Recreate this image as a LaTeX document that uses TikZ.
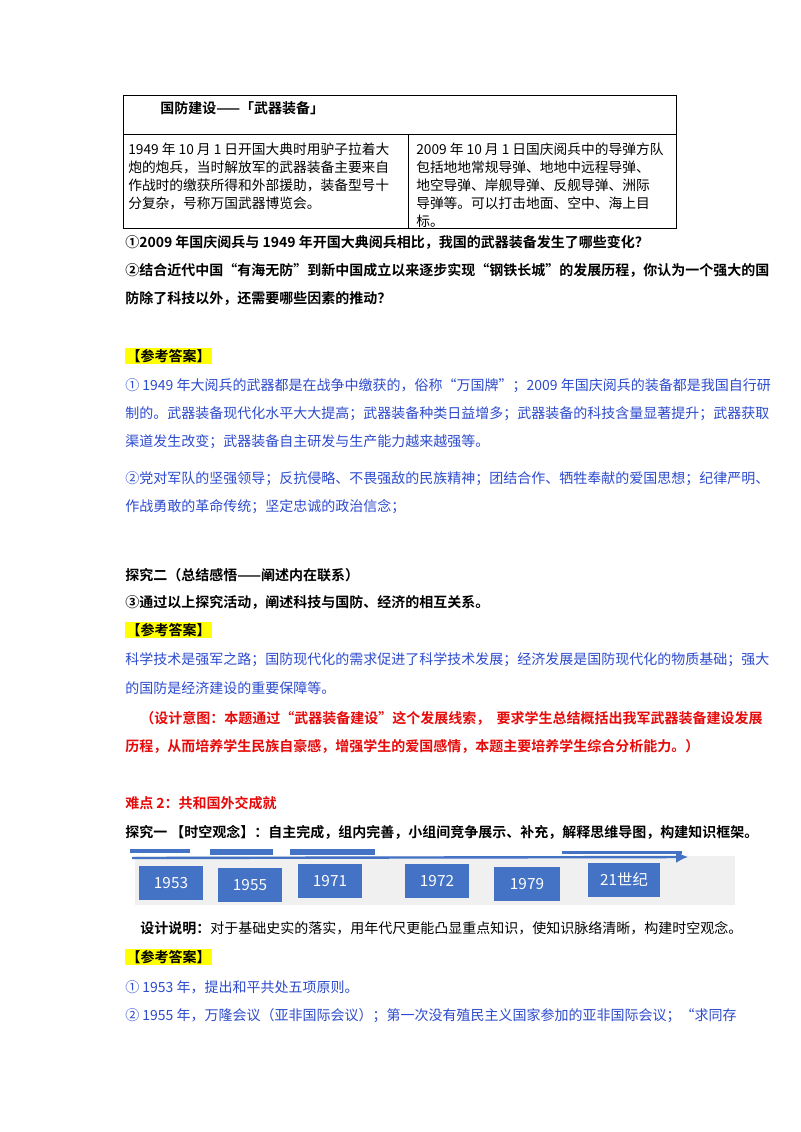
\documentclass[tikz,border=0pt]{standalone}
\usepackage{fontspec}
\usetikzlibrary{arrows.meta}
\setmainfont{Noto Sans CJK SC}[BoldFont={Noto Sans CJK SC Bold}]
\definecolor{tb}{RGB}{45,75,205}
\definecolor{tr}{RGB}{230,10,10}
\definecolor{bx}{RGB}{68,114,196}
\definecolor{hl}{RGB}{255,255,0}
\begin{document}
\begin{tikzpicture}[x=0.75pt,y=-0.75pt,
  t/.style={anchor=west,inner sep=0pt,font=\fontsize{10.5}{12}\selectfont},
  tt/.style={anchor=west,inner sep=0pt,font=\fontsize{10.3}{11}\selectfont},
  tbold/.style={t,font=\fontsize{10.5}{12}\selectfont\bfseries},
  ans/.style={t,text=tb},
  red/.style={tbold,text=tr},
  hlt/.style={tbold,fill=hl,inner sep=1pt},
  yr/.style={fill=bx,text=white,inner sep=0pt,font=\fontsize{11.5}{12}\selectfont}]
\useasboundingbox (0,0) rectangle (800,1132);
\fill[white] (0,0) rectangle (800,1132);
% table
\draw[line width=0.6pt] (123,95) rectangle (676,228);
\draw[line width=0.6pt] (123,134) -- (676,134);
\draw[line width=0.6pt] (408,134) -- (408,228);
\node[tbold] (tt0) at (160,108) {国防建设——「武器装备」};
\node[tt] (l1) at (128,149) {1949 年 10 月 1 日开国大典时用驴子拉着大};
\node[tt] (l2) at (128,167) {炮的炮兵，当时解放军的武器装备主要来自};
\node[tt] (l3) at (128,185) {作战时的缴获所得和外部援助，装备型号十};
\node[tt] (l4) at (128,203) {分复杂，号称万国武器博览会。};
\node[tt] (r1) at (416,149) {2009 年 10 月 1 日国庆阅兵中的导弹方队};
\node[tt] (r2) at (416,167) {包括地地常规导弹、地地中远程导弹、};
\node[tt] (r3) at (416,185) {地空导弹、岸舰导弹、反舰导弹、洲际};
\node[tt] (r4) at (416,203) {导弹等。可以打击地面、空中、海上目};
\node[tt] (r5) at (416,221) {标。};
% questions
\node[tbold] (q1) at (125,242) {①2009 年国庆阅兵与 1949 年开国大典阅兵相比，我国的武器装备发生了哪些变化？};
\node[tbold] (q2) at (125,270) {②结合近代中国“有海无防”到新中国成立以来逐步实现“钢铁长城”的发展历程，你认为一个强大的国};
\node[tbold] (q3) at (125,298) {防除了科技以外，还需要哪些因素的推动？};
\node[hlt] (k1) at (125,356) {【参考答案】};
\node[ans] (a1) at (125,386) {① 1949 年大阅兵的武器都是在战争中缴获的，俗称“万国牌”；2009 年国庆阅兵的装备都是我国自行研};
\node[ans] (a2) at (125,414) {制的。武器装备现代化水平大大提高；武器装备种类日益增多；武器装备的科技含量显著提升；武器获取};
\node[ans] (a3) at (125,442) {渠道发生改变；武器装备自主研发与生产能力越来越强等。};
\node[ans] (a4) at (125,479) {②党对军队的坚强领导；反抗侵略、不畏强敌的民族精神；团结合作、牺牲奉献的爱国思想；纪律严明、};
\node[ans] (a5) at (125,507) {作战勇敢的革命传统；坚定忠诚的政治信念；};
\node[tbold] (e2) at (125,575) {探究二（总结感悟——阐述内在联系）};
\node[tbold] (q4) at (125,602) {③通过以上探究活动，阐述科技与国防、经济的相互关系。};
\node[hlt] (k2) at (125,630) {【参考答案】};
\node[ans] (b1) at (125,660) {科学技术是强军之路；国防现代化的需求促进了科学技术发展；经济发展是国防现代化的物质基础；强大};
\node[ans] (b2) at (125,688) {的国防是经济建设的重要保障等。};
\node[red] (c1) at (140,718) {（设计意图：本题通过“武器装备建设”这个发展线索，\ \ 要求学生总结概括出我军武器装备建设发展};
\node[red] (c2) at (125,746) {历程，从而培养学生民族自豪感，增强学生的爱国感情，本题主要培养学生综合分析能力。）};
\node[red] (d1) at (125,803) {难点 2：共和国外交成就};
\node[tbold] (e1) at (125,832) {探究一 【时空观念】：自主完成，组内完善，小组间竞争展示、补充，解释思维导图，构建知识框架。};
% timeline
\fill[black!6] (135,856) rectangle (735,905);
\fill[bx] (130,849) rectangle (190,853);
\fill[bx] (210,849) rectangle (273,855);
\fill[bx] (290,849) rectangle (375,855);
\fill[bx] (562,851) rectangle (682,854);
\draw[bx,line width=1.8pt,-{Latex[length=9pt,width=9pt]}] (132,858) -- (688,857);
\node[yr,text width=48pt,align=center,minimum height=25pt] (y1) at (171,883) {1953};
\node[yr,text width=48pt,align=center,minimum height=25pt] (y2) at (250,885) {1955};
\node[yr,text width=48pt,align=center,minimum height=25pt] (y3) at (330,881) {1971};
\node[yr,text width=48pt,align=center,minimum height=25pt] (y4) at (437,881) {1972};
\node[yr,text width=49pt,align=center,minimum height=25pt] (y5) at (527,884) {1979};
\node[yr,text width=54pt,align=center,minimum height=26pt] (y6) at (624,880) {21世纪};
\node[t] (s1) at (140,928) {\textbf{设计说明：}对于基础史实的落实，用年代尺更能凸显重点知识，使知识脉络清晰，构建时空观念。};
\node[hlt] (k3) at (125,957) {【参考答案】};
\node[ans] (f1) at (125,987) {① 1953 年，提出和平共处五项原则。};
\node[ans] (f2) at (125,1016) {② 1955 年，万隆会议（亚非国际会议）；第一次没有殖民主义国家参加的亚非国际会议；“求同存};
\end{tikzpicture}
\end{document}
